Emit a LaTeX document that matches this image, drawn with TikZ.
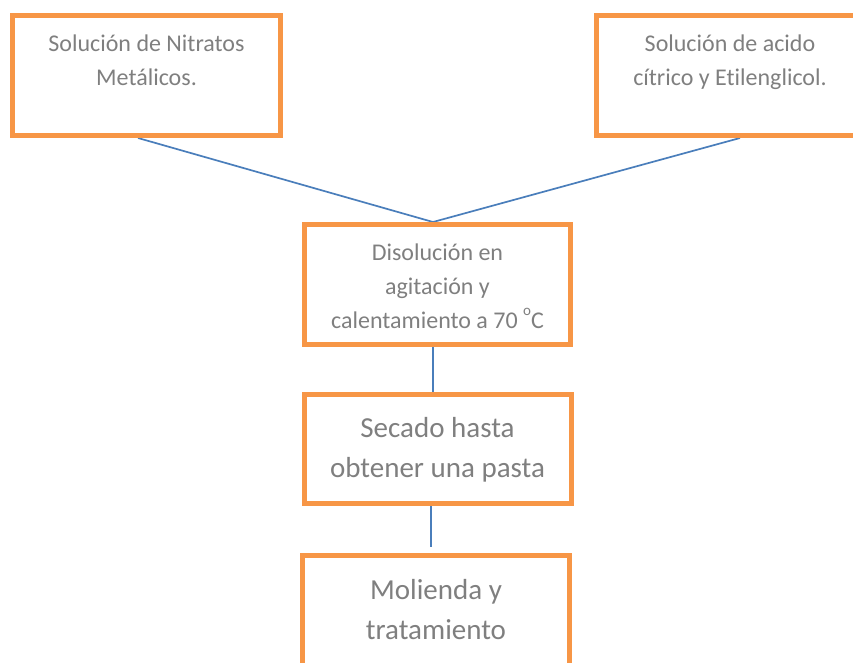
\documentclass[tikz,border=0pt]{standalone}
\usepackage{fontspec}
\setmainfont{Carlito}[Ligatures=CommonOff]
\usepackage{tikz}
\usetikzlibrary{positioning, backgrounds}
\definecolor{fxOrange}{HTML}{F79646}
\definecolor{fxBlue}{HTML}{4A7EBB}
\definecolor{fxGray}{HTML}{7F7F7F}
\tikzset{
  fxbox/.style={rectangle, draw=fxOrange, line width=5pt, anchor=north west,
                minimum width=267pt, minimum height=120pt},
  fxflow/.style={draw=fxBlue, line width=1.7pt},
}

\begin{document}
\begin{tikzpicture}[node distance=45pt,
  txt/.style={anchor=north, inner sep=0pt, align=center, text=fxGray,
              font=\fontsize{24}{34}\selectfont},
  big/.style={txt, font=\fontsize{29}{40}\selectfont}]
  \useasboundingbox (0,0) rectangle (853pt,-662pt);
  \clip (0,0) rectangle (853pt,-662pt);
  \node[fxbox, minimum width=268pt,
        label={[txt, yshift=-22pt]north:Solución de Nitratos\\Metálicos.}](nitratos) at (10pt,-13pt){};
  \node[fxbox,
        label={[txt, yshift=-22pt]north:Solución de acido\\cítrico y Etilenglicol.}](citrico) at (594pt,-13pt){};
  \node[fxbox, minimum width=266pt,
        label={[txt, yshift=-22pt]north:Disolución en\\agitación y\\calentamiento a 70 \raisebox{0.55em}{\fontsize{15}{15}\selectfont o}C}](disol) at (302pt,-222pt){};
  \node[fxbox, below=45pt of disol, minimum height=109pt,
        label={[big, yshift=-25pt]north:Secado hasta\\obtener una pasta}](secado){};
  \node[fxbox, below=47pt of secado, xshift=-1.5pt, minimum height=110pt,
        label={[big, yshift=-26pt]north:Molienda y\\tratamiento}](molienda){};
  \begin{scope}[on background layer]
    \draw[fxflow]([xshift=-8.5pt]nitratos.south) -- ([xshift=-4.5pt]disol.north);
    \draw[fxflow]([xshift=10pt]citrico.south) -- ([xshift=-4.5pt]disol.north);
    \draw[fxflow]([xshift=-4.5pt]disol.south) -- ([xshift=-4.5pt]secado.north);
    \draw[fxflow, shorten >=6pt]([xshift=-6.5pt]secado.south) -- ([xshift=-5pt]molienda.north);
  \end{scope}
\end{tikzpicture}
\end{document}
